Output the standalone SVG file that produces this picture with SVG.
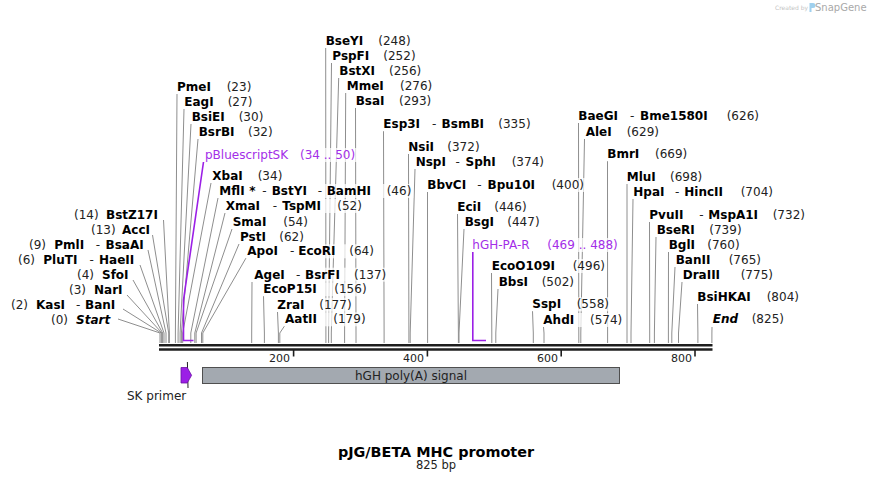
<svg xmlns="http://www.w3.org/2000/svg" width="872" height="483" viewBox="0 0 872 483">
<style>
.n{font-family:"DejaVu Sans",Verdana,sans-serif;font-weight:bold;font-size:12px;fill:#000}
.i{font-style:italic}
.c{font-family:"DejaVu Sans",Verdana,sans-serif;font-size:12px;fill:#222;font-weight:normal}
.p{font-family:"DejaVu Sans",Verdana,sans-serif;font-size:12px;fill:#a32ee8}
.l{fill:none;stroke:#8e8e8e;stroke-width:1}
.pl{fill:none;stroke:#9b1fe6;stroke-width:1.6}
.bg{fill:#fff;fill-opacity:0.72}
.rl{stroke:#1e1e1e;fill:none}
.tk{font-family:"DejaVu Sans",Verdana,sans-serif;font-size:11px;fill:#222;text-anchor:end}
</style>
<rect width="872" height="483" fill="#fff"/>

<g id="watermark">
<text x="775" y="10" style="font-family:'DejaVu Sans',sans-serif;font-size:6px;fill:#c4c4c4">Created by</text>
<path d="M809.5 3 h3.5 a2.5 2.5 0 0 1 0 5 h-1.5 v4 h-2 z" fill="#9fd0ee"/>
<text x="815" y="11" style="font-family:'DejaVu Sans',sans-serif;font-size:10px;fill:#a9a9a9">SnapGene</text>
</g>

<g id="connectors">
<polyline class="l" points="118,319 160,333 160,343"/>
<polyline class="l" points="123,309 161.3,333 161.3,343"/>
<polyline class="l" points="127,295 162,333 162,343"/>
<polyline class="l" points="133,280 162.7,333 162.7,343"/>
<polyline class="l" points="140,265 164,333 164,343"/>
<polyline class="l" points="148,250 166,333 166,343"/>
<polyline class="l" points="152.5,235 168.7,333 168.7,343"/>
<polyline class="l" points="163.5,220 169.4,333 169.4,343"/>
<polyline class="l" points="177,94 175.4,333 175.4,343"/>
<polyline class="l" points="184,109 178.1,333 178.1,343"/>
<polyline class="l" points="191,124 180.1,333 180.1,343"/>
<polyline class="l" points="198,139 181.4,333 181.4,343"/>
<polyline class="l" points="211,183 182.7,333 182.7,343"/>
<polyline class="l" points="218,198 190.8,333 190.8,343"/>
<polyline class="l" points="225,213 194.8,333 194.8,343"/>
<polyline class="l" points="232,229 196.1,333 196.1,343"/>
<polyline class="l" points="239,244 201.5,333 201.5,343"/>
<polyline class="l" points="246,258 202.8,333 202.8,343"/>
<polyline class="l" points="252,282 251.7,333 251.7,343"/>
<polyline class="l" points="263.5,296 264.4,333 264.4,343"/>
<polyline class="l" points="277.5,312 278.4,333 278.4,343"/>
<polyline class="l" points="284.5,326 279.8,333 279.8,343"/>
<polyline class="l" points="325.7,48 325.9,333 325.9,343"/>
<polyline class="l" points="331.5,63 328.6,333 328.6,343"/>
<polyline class="l" points="338.7,78 331.3,333 331.3,343"/>
<polyline class="l" points="345.7,93 344.6,333 344.6,343"/>
<polyline class="l" points="355.5,108 356,333 356,343"/>
<polyline class="l" points="383.5,131 384.1,333 384.1,343"/>
<polyline class="l" points="408.5,154 408.9,333 408.9,343"/>
<polyline class="l" points="415,169 410.2,333 410.2,343"/>
<polyline class="l" points="427.5,192 427.6,333 427.6,343"/>
<polyline class="l" points="457.5,214 458.4,333 458.4,343"/>
<polyline class="l" points="464,229 459,333 459,343"/>
<polyline class="l" points="491.5,273 491.8,333 491.8,343"/>
<polyline class="l" points="498,289 495.8,333 495.8,343"/>
<polyline class="l" points="532.5,311 533.3,333 533.3,343"/>
<polyline class="l" points="543.5,327 544,333 544,343"/>
<polyline class="l" points="578.5,123 578.8,333 578.8,343"/>
<polyline class="l" points="584.5,139 580.8,333 580.8,343"/>
<polyline class="l" points="607.5,161 607.6,333 607.6,343"/>
<polyline class="l" points="627,184 627,333 627,343"/>
<polyline class="l" points="633,199 631,333 631,343"/>
<polyline class="l" points="649.5,222 649.7,333 649.7,343"/>
<polyline class="l" points="656,237 654.4,333 654.4,343"/>
<polyline class="l" points="668.5,252 668.4,333 668.4,343"/>
<polyline class="l" points="675,267 671.8,333 671.8,343"/>
<polyline class="l" points="682,282 678.5,333 678.5,343"/>
<polyline class="l" points="697.5,304 697.9,333 697.9,343"/>
<polyline class="l" points="712,327 711.9,333 711.9,343"/>
<polyline class="pl" points="203.5,162 183.5,300 183.5,340.5 193.5,340.5"/>
<polyline class="pl" points="472.8,252 472.8,340.5 486,340.5"/>
</g>

<g id="ruler">
<line class="rl" x1="159" y1="345.3" x2="712.5" y2="345.3" stroke-width="2.6"/>
<line class="rl" x1="159" y1="349.5" x2="712.5" y2="349.5" stroke-width="2.4"/>
<line class="rl" x1="293.6" y1="350" x2="293.6" y2="356.5" stroke-width="1.6"/>
<line class="rl" x1="427.4" y1="350" x2="427.4" y2="356.5" stroke-width="1.6"/>
<line class="rl" x1="561.2" y1="350" x2="561.2" y2="356.5" stroke-width="1.6"/>
<line class="rl" x1="695" y1="350" x2="695" y2="356.5" stroke-width="1.6"/>
<text class="tk" x="290" y="361.5">200</text>
<text class="tk" x="424" y="361.5">400</text>
<text class="tk" x="558" y="361.5">600</text>
<text class="tk" x="692" y="361.5">800</text>
</g>

<!-- left cluster -->
<g id="BstZ17I"><text class="c" x="74" y="219">(14)</text><text class="n" x="106" y="219">BstZ17I</text></g>
<g id="AccI"><text class="c" x="91" y="234">(13)</text><text class="n" x="122" y="234">AccI</text></g>
<g id="PmlI"><text class="c" x="29" y="248.5">(9)</text><text class="n" x="54.3" y="248.5">PmlI</text><text class="c" x="95.7" y="248.5">-</text><text class="n" x="105.5" y="248.5">BsaAI</text></g>
<g id="PluTI"><text class="c" x="18" y="263.5">(6)</text><text class="n" x="43.3" y="263.5">PluTI</text><text class="c" x="89.5" y="263.5">-</text><text class="n" x="99" y="263.5">HaeII</text></g>
<g id="SfoI"><text class="c" x="77" y="278.5">(4)</text><text class="n" x="102" y="278.5">SfoI</text></g>
<g id="NarI"><text class="c" x="69" y="293.5">(3)</text><text class="n" x="94" y="293.5">NarI</text></g>
<g id="KasI"><text class="c" x="11" y="308.5">(2)</text><text class="n" x="36" y="308.5">KasI</text><text class="c" x="76" y="308.5">-</text><text class="n" x="85" y="308.5">BanI</text></g>
<g id="Start"><text class="c" x="51" y="323.5">(0)</text><text class="n i" x="76" y="323.5">Start</text></g>

<!-- upper left cluster -->
<g id="PmeI"><rect class="bg" x="175" y="80" width="78.3" height="14"/><text class="n" x="177" y="91">PmeI</text><text class="c" x="226.7" y="91">(23)</text></g>
<g id="EagI"><rect class="bg" x="182.3" y="95" width="72" height="14"/><text class="n" x="184.3" y="106">EagI</text><text class="c" x="227.7" y="106">(27)</text></g>
<g id="BsiEI"><rect class="bg" x="189.7" y="110" width="75.6" height="14"/><text class="n" x="191.7" y="121">BsiEI</text><text class="c" x="238.7" y="121">(30)</text></g>
<g id="BsrBI"><rect class="bg" x="196.7" y="125" width="77.9" height="14"/><text class="n" x="198.7" y="136">BsrBI</text><text class="c" x="248" y="136">(32)</text></g>
<g id="pBluescriptSK"><rect class="bg" x="203" y="148" width="154" height="14"/><text class="p" x="205" y="159">pBluescriptSK</text><text class="p" x="300" y="159">(34 .. 50)</text></g>
<g id="XbaI"><rect class="bg" x="210.3" y="169" width="74" height="14"/><text class="n" x="212.3" y="180">XbaI</text><text class="c" x="257.7" y="180">(34)</text></g>
<g id="MflI"><rect class="bg" x="217.3" y="184" width="196" height="14"/><text class="n" x="219.3" y="195">MflI</text><text class="n" x="249.3" y="195">*</text><text class="c" x="262.3" y="195">-</text><text class="n" x="271.7" y="195">BstYI</text><text class="c" x="317.7" y="195">-</text><text class="n" x="326.7" y="195">BamHI</text><text class="c" x="386.7" y="195">(46)</text></g>
<g id="XmaI"><rect class="bg" x="223.7" y="199" width="140.2" height="14"/><text class="n" x="225.7" y="210">XmaI</text><text class="c" x="272.8" y="210">-</text><text class="n" x="282.3" y="210">TspMI</text><text class="c" x="337.3" y="210">(52)</text></g>
<g id="SmaI"><rect class="bg" x="230.7" y="214.7" width="79.2" height="14"/><text class="n" x="232.7" y="225.7">SmaI</text><text class="c" x="283.3" y="225.7">(54)</text></g>
<g id="PstI"><rect class="bg" x="238" y="229.7" width="67.9" height="14"/><text class="n" x="240" y="240.7">PstI</text><text class="c" x="279.3" y="240.7">(62)</text></g>
<g id="ApoI"><rect class="bg" x="245.3" y="244.3" width="130.6" height="14"/><text class="n" x="247.3" y="255.3">ApoI</text><text class="c" x="290" y="255.3">-</text><text class="n" x="298.3" y="255.3">EcoRI</text><text class="c" x="349.3" y="255.3">(64)</text></g>
<g id="AgeI"><rect class="bg" x="252.3" y="267.7" width="136" height="14"/><text class="n" x="254.3" y="278.7">AgeI</text><text class="c" x="296" y="278.7">-</text><text class="n" x="305" y="278.7">BsrFI</text><text class="c" x="354" y="278.7">(137)</text></g>
<g id="EcoP15I"><rect class="bg" x="261.3" y="282.3" width="107.3" height="14"/><text class="n" x="263.3" y="293.3">EcoP15I</text><text class="c" x="334.3" y="293.3">(156)</text></g>
<g id="ZraI"><rect class="bg" x="275.3" y="297.7" width="78.3" height="14"/><text class="n" x="277.3" y="308.7">ZraI</text><text class="c" x="319.3" y="308.7">(177)</text></g>
<g id="AatII"><rect class="bg" x="283" y="312.3" width="84.6" height="14"/><text class="n" x="285" y="323.3">AatII</text><text class="c" x="333.3" y="323.3">(179)</text></g>

<!-- middle cluster -->
<g id="BseYI"><rect class="bg" x="323.7" y="34" width="88.9" height="14"/><text class="n" x="325.7" y="45">BseYI</text><text class="c" x="378.3" y="45">(248)</text></g>
<g id="PspFI"><rect class="bg" x="330.3" y="49" width="87.3" height="14"/><text class="n" x="332.3" y="60">PspFI</text><text class="c" x="383.3" y="60">(252)</text></g>
<g id="BstXI"><rect class="bg" x="337.3" y="64" width="86" height="14"/><text class="n" x="339.3" y="75">BstXI</text><text class="c" x="389" y="75">(256)</text></g>
<g id="MmeI"><rect class="bg" x="344.7" y="79" width="89.6" height="14"/><text class="n" x="346.7" y="90">MmeI</text><text class="c" x="400" y="90">(276)</text></g>
<g id="BsaI"><rect class="bg" x="353.7" y="94" width="79.6" height="14"/><text class="n" x="355.7" y="105">BsaI</text><text class="c" x="399" y="105">(293)</text></g>
<g id="Esp3I"><rect class="bg" x="381.3" y="117.3" width="151.3" height="14"/><text class="n" x="383.3" y="128.3">Esp3I</text><text class="c" x="432" y="128.3">-</text><text class="n" x="441.6" y="128.3">BsmBI</text><text class="c" x="498.3" y="128.3">(335)</text></g>
<g id="NsiI"><rect class="bg" x="406.3" y="139.7" width="75.3" height="14"/><text class="n" x="408.3" y="150.7">NsiI</text><text class="c" x="447.3" y="150.7">(372)</text></g>
<g id="NspI"><rect class="bg" x="413.7" y="155" width="132.3" height="14"/><text class="n" x="415.7" y="166">NspI</text><text class="c" x="455.5" y="166">-</text><text class="n" x="465.5" y="166">SphI</text><text class="c" x="511.7" y="166">(374)</text></g>
<g id="BbvCI"><rect class="bg" x="425.3" y="178" width="160.7" height="14"/><text class="n" x="427.3" y="189">BbvCI</text><text class="c" x="477.3" y="189">-</text><text class="n" x="487.5" y="189">Bpu10I</text><text class="c" x="551.7" y="189">(400)</text></g>
<g id="EciI"><rect class="bg" x="455.3" y="200" width="73.3" height="14"/><text class="n" x="457.3" y="211">EciI</text><text class="c" x="494.3" y="211">(446)</text></g>
<g id="BsgI"><rect class="bg" x="462.7" y="215" width="78.9" height="14"/><text class="n" x="464.7" y="226">BsgI</text><text class="c" x="507.3" y="226">(447)</text></g>
<g id="hGH-PA-R"><rect class="bg" x="470.3" y="238" width="149" height="14"/><text class="p" x="472.3" y="249">hGH-PA-R</text><text class="p" x="547.3" y="249">(469 .. 488)</text></g>
<g id="EcoO109I"><rect class="bg" x="489.7" y="259" width="117.3" height="14"/><text class="n" x="491.7" y="270">EcoO109I</text><text class="c" x="572.7" y="270">(496)</text></g>
<g id="BbsI"><rect class="bg" x="496.7" y="274.7" width="79.3" height="14"/><text class="n" x="498.7" y="285.7">BbsI</text><text class="c" x="541.7" y="285.7">(502)</text></g>
<g id="SspI"><rect class="bg" x="530.3" y="297.3" width="80.7" height="14"/><text class="n" x="532.3" y="308.3">SspI</text><text class="c" x="576.7" y="308.3">(558)</text></g>
<g id="AhdI"><rect class="bg" x="541.3" y="313" width="83" height="14"/><text class="n" x="543.3" y="324">AhdI</text><text class="c" x="590" y="324">(574)</text></g>

<!-- right cluster -->
<g id="BaeGI"><rect class="bg" x="576.3" y="109" width="184.7" height="14"/><text class="n" x="578.3" y="120">BaeGI</text><text class="c" x="630" y="120">-</text><text class="n" x="640" y="120">Bme1580I</text><text class="c" x="726.7" y="120">(626)</text></g>
<g id="AleI"><rect class="bg" x="583.7" y="124.7" width="77.3" height="14"/><text class="n" x="585.7" y="135.7">AleI</text><text class="c" x="626.7" y="135.7">(629)</text></g>
<g id="BmrI"><rect class="bg" x="605.3" y="147.3" width="84" height="14"/><text class="n" x="607.3" y="158.3">BmrI</text><text class="c" x="655" y="158.3">(669)</text></g>
<g id="MluI"><rect class="bg" x="624.7" y="169.7" width="79.6" height="14"/><text class="n" x="626.7" y="180.7">MluI</text><text class="c" x="670" y="180.7">(698)</text></g>
<g id="HpaI"><rect class="bg" x="631.3" y="185" width="143.7" height="14"/><text class="n" x="633.3" y="196">HpaI</text><text class="c" x="675" y="196">-</text><text class="n" x="684.3" y="196">HincII</text><text class="c" x="740.7" y="196">(704)</text></g>
<g id="PvuII"><rect class="bg" x="647.3" y="208" width="159.7" height="14"/><text class="n" x="649.3" y="219">PvuII</text><text class="c" x="699.3" y="219">-</text><text class="n" x="708.3" y="219">MspA1I</text><text class="c" x="772.7" y="219">(732)</text></g>
<g id="BseRI"><rect class="bg" x="654.7" y="223" width="88.9" height="14"/><text class="n" x="656.7" y="234">BseRI</text><text class="c" x="709.3" y="234">(739)</text></g>
<g id="BglI"><rect class="bg" x="666.7" y="238" width="74.9" height="14"/><text class="n" x="668.7" y="249">BglI</text><text class="c" x="707.3" y="249">(760)</text></g>
<g id="BanII"><rect class="bg" x="673.7" y="253" width="89.3" height="14"/><text class="n" x="675.7" y="264">BanII</text><text class="c" x="728.7" y="264">(765)</text></g>
<g id="DraIII"><rect class="bg" x="680.7" y="268" width="94.3" height="14"/><text class="n" x="682.7" y="279">DraIII</text><text class="c" x="740.7" y="279">(775)</text></g>
<g id="BsiHKAI"><rect class="bg" x="695.3" y="289.7" width="105.7" height="14"/><text class="n" x="697.3" y="300.7">BsiHKAI</text><text class="c" x="766.7" y="300.7">(804)</text></g>
<g id="End"><rect class="bg" x="710.7" y="312.3" width="75.3" height="14"/><text class="n i" x="712.7" y="323.3">End</text><text class="c" x="751.7" y="323.3">(825)</text></g>

<!-- features -->
<g id="SK-primer">
<line x1="187.4" y1="362" x2="188" y2="388" stroke="#222" stroke-width="1"/>
<polygon points="181,367.5 187.2,367.5 191.6,375.3 187.2,383 181,383" fill="#9b1fe6" stroke="#6b12a3" stroke-width="0.8"/>
<text x="127" y="400" style="font-family:'DejaVu Sans',Verdana,sans-serif;font-size:12px;fill:#222">SK primer</text>
</g>
<g id="hGH-polyA-signal">
<rect x="202.5" y="367.5" width="417" height="16" fill="#a3a9b0" stroke="#4f4f4f" stroke-width="1"/>
<text x="411" y="379.5" text-anchor="middle" style="font-family:'DejaVu Sans',Verdana,sans-serif;font-size:12px;fill:#222">hGH poly(A) signal</text>
</g>

<g id="title">
<text x="436" y="456.7" text-anchor="middle" style="font-family:'DejaVu Sans',Verdana,sans-serif;font-weight:bold;font-size:14.4px;fill:#000">pJG/BETA MHC promoter</text>
<text x="436" y="469.3" text-anchor="middle" style="font-family:'DejaVu Sans',Verdana,sans-serif;font-size:11.5px;fill:#222">825 bp</text>
</g>
</svg>
